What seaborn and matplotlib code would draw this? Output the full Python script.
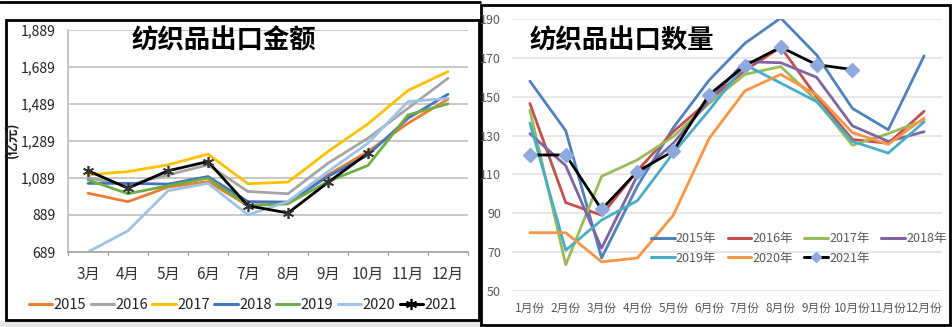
import numpy as np
import pandas as pd
import matplotlib
matplotlib.use("Agg")
import matplotlib.pyplot as plt
import seaborn as sns
from matplotlib.patches import Rectangle
from matplotlib.lines import Line2D

sns.set_theme(style="white")
plt.rcParams['font.family'] = ['Noto Sans CJK SC', 'DejaVu Sans']

# ---------------- data: left chart (export value, 亿元) ----------------
left_months = ["3月", "4月", "5月", "6月", "7月", "8月", "9月", "10月", "11月", "12月"]
left_years = ["2015", "2016", "2017", "2018", "2019", "2020", "2021"]
v2015 = [1007, 961, 1040, 1069, 940, 950, 1106, 1232, 1385, 1515]
v2016 = [1090, 1050, 1106, 1160, 1016, 1004, 1169, 1304, 1466, 1628]
v2017 = [1106, 1124, 1160, 1218, 1058, 1067, 1232, 1382, 1562, 1664]
v2018 = [1060, 1060, 1056, 1097, 961, 959, 1097, 1214, 1412, 1542]
v2019 = [1079, 1004, 1047, 1088, 941, 950, 1070, 1157, 1430, 1490]
v2020 = [689, 804, 1020, 1060, 890, 962, 1124, 1277, 1502, 1520]
v2021 = [1128, 1034, 1128, 1178, 939, 900, 1065, 1223]
left_yticks = [689, 889, 1089, 1289, 1489, 1689, 1889]
left_colors = ["#ED7D31", "#A5A5A5", "#FFC000", "#4472C4", "#70AD47", "#9DC3E6", "#000000"]

# ---------------- data: right chart (export quantity) ----------------
right_months = ["1月份", "2月份", "3月份", "4月份", "5月份", "6月份",
                "7月份", "8月份", "9月份", "10月份", "11月份", "12月份"]
right_years = ["2015年", "2016年", "2017年", "2018年", "2019年", "2020年", "2021年"]
q2015 = [158, 132.5, 67, 104, 134, 158.5, 177.5, 190.5, 171.5, 144, 133, 171]
q2016 = [146.5, 95.5, 89, 112, 132, 148, 163.5, 175.5, 150, 128, 126, 142.5]
q2017 = [143, 63.5, 109, 117.5, 129.5, 146.5, 161.5, 165.5, 148, 125, 131, 138]
q2018 = [131, 114.5, 72, 109.5, 126, 148, 168, 167.5, 160, 135, 127, 132]
q2019 = [136.5, 71, 86.5, 96.5, 121, 143, 166.5, 157, 147.5, 127, 121, 137]
q2020 = [80, 80, 65, 67, 89, 128.5, 153, 161.5, 151, 131.5, 125.5, 139]
q2021 = [120, 120, 92, 111.5, 122, 151, 166, 175.5, 166.5, 164]
right_yticks = [50, 70, 90, 110, 130, 150, 170, 190]
right_colors = ["#4F81BD", "#C0504D", "#9BBB59", "#8064A2", "#4BACC6", "#F79646", "#000000"]

def long_df(months, years, series):
    rows = []
    for y, vals in zip(years, series):
        for i, v in enumerate(vals):
            rows.append({"month": months[i], "idx": i, "year": y, "value": v})
    return pd.DataFrame(rows)

W, H = 953, 327
fig = plt.figure(figsize=(W / 100, H / 100), dpi=100)
fig.patch.set_facecolor("white")

def fr(x0, y0, x1, y1):
    return [x0 / W, 1 - y1 / H, (x1 - x0) / W, (y1 - y0) / H]

# background strip and frames (drawn beneath the axes)
fig.patches.append(Rectangle((0, 0), 1, 6 / H, transform=fig.transFigure,
                             facecolor="#E6E6E6", edgecolor="none", zorder=-3))
fig.add_artist(Line2D([0, 480 / W], [1 - 2 / H, 1 - 2 / H], color="black", lw=2,
                      transform=fig.transFigure, zorder=-2))
fig.patches.append(Rectangle((6 / W, 1 - 320 / H), 473 / W, 300 / H, transform=fig.transFigure,
                             facecolor="white", edgecolor="black", lw=2, zorder=-2))
fig.patches.append(Rectangle((481 / W, 1 - 325 / H), 469 / W, 320 / H, transform=fig.transFigure,
                             facecolor="white", edgecolor="black", lw=2, zorder=-2))

# ---------------- left chart ----------------
axL = fig.add_axes(fr(68, 30, 468, 252))
axL.set_facecolor("none")
dfL = long_df(left_months, left_years, [v2015, v2016, v2017, v2018, v2019, v2020, v2021])
sns.lineplot(data=dfL, x="idx", y="value", hue="year", palette=left_colors,
             hue_order=left_years, ax=axL, lw=2, legend=False, sort=False)
d21 = dfL[dfL.year == "2021"]
axL.plot(d21.idx, d21.value, ls="none", marker=(6, 2, 0), ms=8, mew=1.2, color="#333333")
axL.set_xlim(-0.5, len(left_months) - 0.5)
axL.set_ylim(689, 1889)
axL.set_yticks(left_yticks)
axL.set_yticklabels([f"{t:,}" for t in left_yticks], fontsize=10, color="#222222")
axL.set_xticks(range(len(left_months)))
axL.set_xticklabels(left_months, fontsize=11, color="#333333")
axL.tick_params(axis="x", length=0, pad=10)
axL.tick_params(axis="y", length=0, pad=9)
for b in np.arange(-0.5, len(left_months), 1):
    axL.plot([b, b], [689, 689 - 14], color="#A6A6A6", lw=1, clip_on=False)
axL.grid(axis="y", color="#BFBFBF", lw=1.2)
axL.grid(axis="x", visible=False)
for s in ["top", "right"]:
    axL.spines[s].set_visible(False)
axL.spines["left"].set_color("#BFBFBF")
axL.spines["bottom"].set_color("#A6A6A6")
axL.set_xlabel("")
axL.set_ylabel("")
fig.text(12 / W, 1 - 140 / H, "(亿元)", rotation=90, ha="center", va="center",
         fontsize=9.5, fontweight="bold", color="#222222")
fig.text(224 / W, 1 - 41 / H, "纺织品出口金额", ha="center", va="center",
         fontsize=19, fontweight="bold", color="black")
handlesL = [Line2D([], [], color=c, lw=2.2) for c in left_colors[:-1]]
handlesL.append(Line2D([], [], color="black", lw=2.2, marker=(6, 2, 0), ms=8, mew=1.2))
fig.legend(handlesL, left_years, loc="center", bbox_to_anchor=(243 / W, 1 - 305 / H),
           ncol=7, frameon=False, fontsize=10.5,
           handlelength=1.6, handletextpad=0.1, columnspacing=0.3,
           labelcolor="#222222", borderpad=0)

# ---------------- right chart ----------------
axR = fig.add_axes(fr(512, 19, 942, 291))
axR.set_facecolor("none")
dfR = long_df(right_months, right_years, [q2015, q2016, q2017, q2018, q2019, q2020, q2021])
sns.lineplot(data=dfR, x="idx", y="value", hue="year", palette=right_colors,
             hue_order=right_years, ax=axR, lw=2, legend=False, sort=False)
r21 = dfR[dfR.year == "2021年"]
axR.plot(r21.idx, r21.value, ls="none", marker="D", ms=7, color="#8EA9DB", mec="#8EA9DB")
axR.set_xlim(-0.5, len(right_months) - 0.5)
axR.set_ylim(50, 190)
axR.set_yticks(right_yticks)
axR.set_yticklabels([str(t) for t in right_yticks], fontsize=9, color="#595959")
axR.set_xticks(range(len(right_months)))
axR.set_xticklabels(right_months, fontsize=8.5, color="#595959")
axR.tick_params(axis="x", length=0, pad=8)
axR.tick_params(axis="y", length=0, pad=8)
axR.grid(axis="y", color="#E3E3E3", lw=1.2)
axR.grid(axis="x", visible=False)
for s in axR.spines.values():
    s.set_visible(False)
axR.set_xlabel("")
axR.set_ylabel("")
fig.text(622 / W, 1 - 41 / H, "纺织品出口数量", ha="center", va="center",
         fontsize=19, fontweight="bold", color="black")
handlesR = [Line2D([], [], color=c, lw=2.2) for c in right_colors[:-1]]
handlesR.append(Line2D([], [], color="black", lw=2.2, marker="D", ms=5,
                       mfc="#8EA9DB", mec="#8EA9DB"))
# matplotlib fills legend columns first; reorder so rows read 2015-2018 / 2019-2021
order = [0, 4, 1, 5, 2, 6, 3]
axR.legend([handlesR[i] for i in order], [right_years[i] for i in order],
           loc="center", bbox_to_anchor=(0.667, 0.156),
           ncol=4, frameon=False, fontsize=9, handlelength=1.9, handletextpad=0.1,
           columnspacing=0.9, labelcolor="#595959", labelspacing=0.5)

fig.savefig("out.png", dpi=100)
